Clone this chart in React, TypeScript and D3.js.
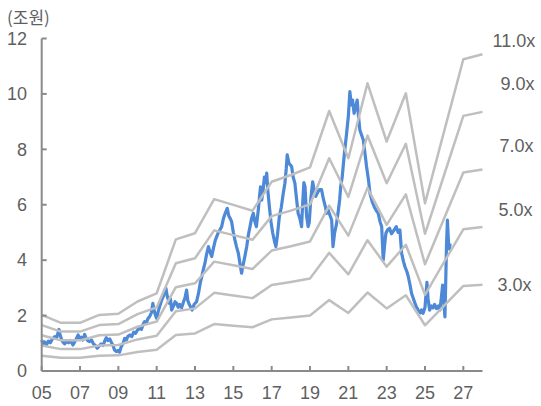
import React from "react";
import * as d3 from "d3";

// ---- Data ----
const bandYears = [2005, 2006, 2007, 2008, 2009, 2010, 2011, 2012, 2013, 2014, 2015, 2016, 2017, 2018, 2019, 2020, 2021, 2022, 2023, 2024, 2025, 2026, 2027, 2028];
// per-unit earnings base (조원) for the PER bands
const bandBase = [0.184, 0.158, 0.158, 0.184, 0.188, 0.228, 0.255, 0.432, 0.452, 0.564, 0.545, 0.526, 0.621, 0.643, 0.668, 0.853, 0.698, 0.944, 0.753, 0.911, 0.55, 0.787, 1.023, 1.039];
const multiples = [3, 5, 7, 9, 11];
const multipleLabels = ["3.0x", "5.0x", "7.0x", "9.0x", "11.0x"];

// market cap (조원), fractional year
const capDates = [
  2005.00, 2005.08, 2005.15, 2005.25, 2005.35, 2005.45, 2005.55, 2005.68, 2005.78, 2005.90, 2005.96,
  2006.02, 2006.10, 2006.20, 2006.30, 2006.40, 2006.50, 2006.63, 2006.72, 2006.82, 2006.90,
  2007.00, 2007.07, 2007.15, 2007.24, 2007.32, 2007.40, 2007.50, 2007.60, 2007.70, 2007.80, 2007.90,
  2008.00, 2008.10, 2008.20, 2008.30, 2008.37, 2008.45, 2008.55, 2008.63, 2008.72, 2008.80, 2008.90, 2008.98,
  2009.06, 2009.15, 2009.25, 2009.33, 2009.42, 2009.50, 2009.60, 2009.70, 2009.80, 2009.90,
  2010.00, 2010.10, 2010.20, 2010.30, 2010.37, 2010.45, 2010.55, 2010.63, 2010.72, 2010.80, 2010.86, 2010.94,
  2011.00, 2011.08, 2011.15, 2011.26, 2011.35, 2011.42, 2011.48, 2011.55, 2011.65, 2011.72, 2011.78, 2011.88, 2011.96,
  2012.04, 2012.12, 2012.20, 2012.30, 2012.40, 2012.48, 2012.56, 2012.62, 2012.70, 2012.78, 2012.85, 2012.95,
  2013.08, 2013.18, 2013.28, 2013.35, 2013.43, 2013.52, 2013.60, 2013.70, 2013.78, 2013.87, 2013.95,
  2014.05, 2014.13, 2014.22, 2014.30, 2014.39, 2014.48, 2014.58, 2014.68, 2014.76, 2014.84, 2014.91,
  2015.00, 2015.08, 2015.16, 2015.26, 2015.34, 2015.43, 2015.50, 2015.60, 2015.70, 2015.78, 2015.87, 2015.95,
  2016.04, 2016.12, 2016.20, 2016.30, 2016.38, 2016.42, 2016.48, 2016.55, 2016.62, 2016.70, 2016.74, 2016.80, 2016.88, 2016.96,
  2017.05, 2017.14, 2017.22, 2017.30, 2017.40, 2017.50, 2017.60, 2017.69, 2017.76, 2017.81, 2017.90,
  2018.04, 2018.12, 2018.21, 2018.30, 2018.38, 2018.47, 2018.56, 2018.62, 2018.68, 2018.74, 2018.82, 2018.90, 2018.96,
  2019.04, 2019.14, 2019.22, 2019.30, 2019.40, 2019.50, 2019.60, 2019.70, 2019.80, 2019.87, 2019.95,
  2020.05, 2020.13, 2020.20, 2020.28, 2020.38, 2020.48, 2020.55, 2020.60, 2020.68, 2020.73, 2020.80, 2020.91,
  2021.00, 2021.08, 2021.15, 2021.22, 2021.30, 2021.38, 2021.46, 2021.53, 2021.60, 2021.70, 2021.78, 2021.86, 2021.95,
  2022.05, 2022.13, 2022.25, 2022.35, 2022.45, 2022.56, 2022.65, 2022.74, 2022.82, 2022.90, 2022.96,
  2023.05, 2023.15, 2023.25, 2023.35, 2023.50, 2023.60, 2023.69, 2023.78, 2023.88, 2023.95,
  2024.05, 2024.13, 2024.22, 2024.30, 2024.40, 2024.48, 2024.56, 2024.65, 2024.75, 2024.82, 2024.90,
  2025.00, 2025.10, 2025.16, 2025.24, 2025.33, 2025.42, 2025.50, 2025.60, 2025.70, 2025.78, 2025.86, 2025.92, 2025.98,
  2026.04, 2026.08, 2026.12, 2026.17, 2026.22, 2026.27, 2026.31,
];
const capValues = [
  1.12, 0.98, 1.05, 0.95, 1.08, 1.02, 1.15, 1.24, 1.20, 1.50, 1.30,
  1.18, 1.05, 0.98, 1.08, 1.02, 1.10, 0.94, 1.05, 1.18, 1.30,
  1.15, 1.22, 1.12, 1.32, 1.18, 1.10, 1.06, 1.12, 0.98, 0.92, 0.82,
  0.90, 0.98, 0.92, 1.10, 1.20, 1.10, 1.16, 1.04, 0.92, 0.76, 0.70, 0.74,
  0.68, 0.88, 1.00, 1.18, 1.12, 1.25, 1.30, 1.24, 1.40, 1.36,
  1.48, 1.54, 1.50, 1.70, 1.78, 1.72, 1.90, 1.96, 2.10, 2.44, 2.20, 2.00,
  1.90, 2.15, 2.32, 2.56, 2.70, 2.92, 2.99, 2.70, 2.45, 2.60, 2.20, 2.35, 2.50,
  2.44, 2.30, 2.40, 2.28, 2.50, 2.65, 2.92, 2.55, 2.40, 2.30, 2.20, 2.40,
  2.50, 2.80, 3.20, 3.40, 3.65, 3.90, 4.20, 4.49, 4.30, 4.13, 4.40,
  4.70, 4.85, 5.00, 5.10, 5.21, 5.50, 5.70, 5.87, 5.60, 5.50, 5.39,
  5.00, 4.73, 4.50, 4.25, 3.90, 3.53, 3.80, 4.13, 4.50, 4.90, 5.21, 5.50,
  5.69, 5.40, 5.21, 5.80, 6.40, 6.65, 6.17, 6.50, 7.00, 6.80, 7.14, 6.50, 5.93, 5.40,
  5.00, 4.70, 4.49, 4.90, 5.57, 5.90, 6.40, 6.78, 7.30, 7.80, 7.50,
  7.38, 7.00, 6.78, 6.20, 5.69, 5.50, 5.21, 6.10, 6.80, 6.65, 5.60, 5.21, 5.35,
  6.20, 6.83, 6.50, 6.30, 6.45, 6.55, 6.55, 6.20, 5.93, 5.69, 5.80,
  5.60, 5.45, 4.49, 4.97, 5.30, 5.80, 6.20, 6.65, 7.00, 7.38, 7.90, 8.58,
  9.20, 10.08, 9.60, 9.78, 9.30, 9.50, 9.78, 9.20, 8.70, 8.50, 8.34, 7.90, 7.38,
  6.90, 6.41, 6.10, 5.93, 5.80, 5.69, 5.40, 5.21, 4.00, 4.60, 4.97,
  5.10, 5.15, 4.95, 5.05, 5.21, 5.00, 5.09, 4.25, 3.95, 3.77,
  3.60, 3.40, 3.10, 2.80, 2.60, 2.44, 2.30, 2.20, 2.10, 2.20, 2.08,
  2.30, 3.20, 2.60, 2.20, 2.35, 2.28, 2.40, 2.25, 2.35, 2.20, 2.70, 3.10, 2.50,
  1.95, 3.20, 4.49, 5.45, 4.70, 4.40, 4.60,
];

const yTicks = [0, 2, 4, 6, 8, 10, 12];
const xTicks = [2005, 2007, 2009, 2011, 2013, 2015, 2017, 2019, 2021, 2023, 2025, 2027];
const unitLabel = "(조원)";

// ---- Layout ----
const W = 541;
const H = 406;
const left = 41.7;
const right = 482.5;
const top = 38.5;
const bottom = 371;
// label placement (px) relative to band end
const labelDx = [15, 16, 17, 18, 10];
const labelDy = [0, -17, -23.5, -28.5, -13.5];

const FONT = "'Liberation Sans', Arial, sans-serif";
const TEXT = "#5f5f5f";
const AXIS = "#8a8a8a";
const BAND = "#bfbfbf";
const BLUE = "#4d89d6";

export default function App() {
  const x = d3.scaleLinear().domain([2005, 2028]).range([left, right]);
  const y = d3.scaleLinear().domain([0, 12]).range([bottom, top]);

  const line = d3
    .line<[number, number]>()
    .x((d) => x(d[0]))
    .y((d) => y(d[1]));

  const capPts: [number, number][] = capDates.map((d, i) => [d, capValues[i]]);

  return (
    <div style={{ position: "absolute", left: 0, top: 0 }}>
      <svg width={W} height={H} style={{ display: "block", background: "#fff" }}>
        {/* unit label */}
        <text x={7} y={24} fontFamily="'Noto Sans CJK KR', sans-serif" fontSize={17} fill={TEXT}>
          {unitLabel}
        </text>

        {/* market cap */}
        <path d={line(capPts) || ""} fill="none" stroke={BLUE} strokeWidth={3.2} strokeLinejoin="round" />

        {/* PER bands */}
        {multiples.map((m, k) => {
          const pts: [number, number][] = bandYears.map((yr, i) => [yr, bandBase[i] * m]);
          const last = pts[pts.length - 1];
          return (
            <g key={m}>
              <path d={line(pts) || ""} fill="none" stroke={BAND} strokeWidth={2.5} strokeLinejoin="round" />
              <text
                x={x(last[0]) + labelDx[k]}
                y={y(last[1]) + labelDy[k]}
                dy="0.35em"
                fontFamily={FONT}
                fontSize={18}
                fill={TEXT}
              >
                {multipleLabels[k]}
              </text>
            </g>
          );
        })}

        {/* y axis */}
        <line x1={left} x2={left} y1={top} y2={bottom} stroke={AXIS} strokeWidth={2} />
        {yTicks.map((t) => (
          <g key={t}>
            <line x1={left} x2={left + 5} y1={y(t)} y2={y(t)} stroke={AXIS} strokeWidth={2} />
            <text x={27} y={y(t)} dy="0.35em" textAnchor="end" fontFamily={FONT} fontSize={18} fill={TEXT}>
              {t}
            </text>
          </g>
        ))}

        {/* x axis */}
        <line x1={left} x2={right} y1={bottom} y2={bottom} stroke={AXIS} strokeWidth={2} />
        {xTicks.map((t) => (
          <g key={t}>
            <line x1={x(t)} x2={x(t)} y1={bottom} y2={bottom - 5} stroke={AXIS} strokeWidth={2} />
            <text x={x(t)} y={393} dy="0.35em" textAnchor="middle" fontFamily={FONT} fontSize={18} fill={TEXT}>
              {String(t % 100).padStart(2, "0")}
            </text>
          </g>
        ))}
      </svg>
    </div>
  );
}
